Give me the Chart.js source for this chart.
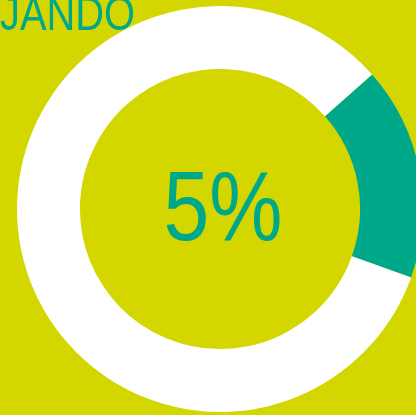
<!DOCTYPE html>
<html>
<head>
<meta charset="utf-8">
<script src="https://cdn.jsdelivr.net/npm/chart.js@4"></script>
<style>
  html, body { margin: 0; padding: 0; width: 416px; height: 415px; overflow: hidden; background: #d4d600; }
  #title { position: absolute; left: 0px; top: -14px; font-family: "Liberation Sans", sans-serif; font-size: 48px; color: #00a88a; white-space: nowrap; z-index: 2; transform: scaleX(0.83); transform-origin: 0 0; }
  #wrap { position: absolute; left: 17px; top: 6px; width: 406px; height: 406px; }
</style>
</head>
<body>
<div id="title">JANDO</div>
<div id="wrap"><canvas id="donut" width="406" height="406"></canvas></div>
<script>
const labels = ['share', 'rest'];
const values = [17, 83];
const colors = ['#00a88a', '#ffffff'];
const centerText = '5%';

// condensed center label (no narrow font installed, so squeeze it)
const centerLabel = {
    id: 'centerLabel',
    afterDraw(chart) {
        const ctx = chart.ctx;
        const a = chart.chartArea;
        const cx = (a.left + a.right) / 2 + 3;
        const cy = (a.top + a.bottom) / 2 + 4;
        ctx.save();
        ctx.translate(cx, cy);
        ctx.scale(0.84, 1);
        ctx.fillStyle = '#00a88a';
        ctx.font = '98px "Liberation Sans", sans-serif';
        ctx.textAlign = 'center';
        ctx.textBaseline = 'middle';
        ctx.fillText(centerText, 0, 0);
        ctx.restore();
    }
};

new Chart(document.getElementById('donut'), {
    type: 'doughnut',
    data: {
        labels: labels,
        datasets: [{
            data: values,
            backgroundColor: colors,
            borderWidth: 0
        }]
    },
    options: {
        responsive: false,
        animation: false,
        cutout: '69%',
        rotation: 48.5,
        layout: { padding: 0 },
        plugins: {
            legend: { display: false },
            tooltip: { enabled: false }
        }
    },
    plugins: [centerLabel]
});
</script>
</body>
</html>
